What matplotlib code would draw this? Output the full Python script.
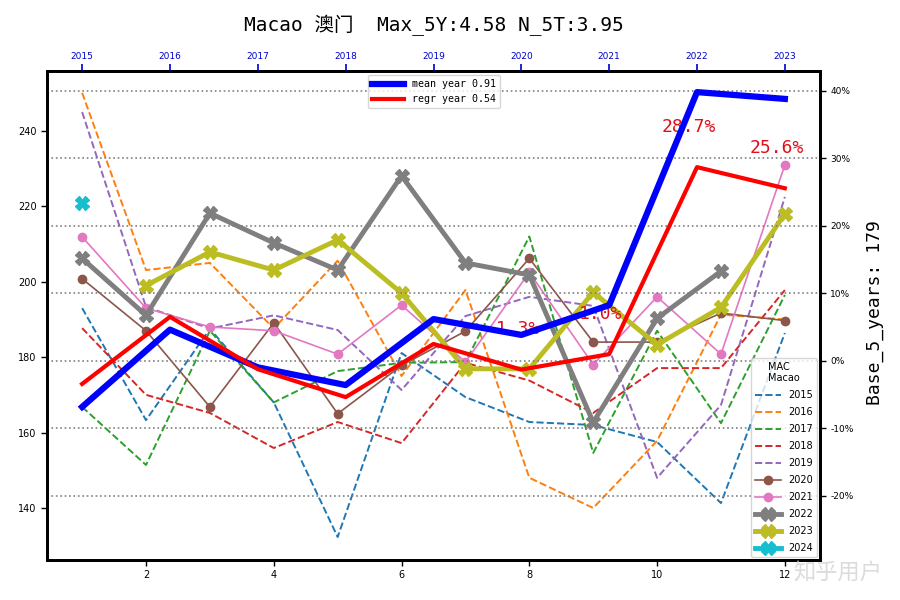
import numpy as np
import matplotlib
matplotlib.use("Agg")
import matplotlib.pyplot as plt
from matplotlib.ticker import FuncFormatter

nan = np.nan
months = list(range(1, 13))
years_axis = [2015, 2016, 2017, 2018, 2019, 2020, 2021, 2022, 2023]
base = 179

s2015 = [193.0, 163.3, 187.5, 168.0, 132.3, 181.1, 169.4, 162.8, 162.0, 157.5, 141.3, 186.4]
s2016 = [250.1, 203.1, 205.0, 187.6, 205.6, 175.0, 197.8, 148.0, 140.0, 157.8, 191.3, 190.0]
s2017 = [166.8, 151.4, 187.0, 168.0, 176.3, 178.5, 178.7, 212.0, 154.6, 187.0, 162.5, 196.5]
s2018 = [187.7, 170.0, 165.2, 155.9, 162.8, 157.2, 178.5, 173.8, 165.2, 177.1, 177.1, 197.8]
s2019 = [245.0, 193.3, 187.6, 191.1, 187.2, 171.3, 190.9, 196.0, 193.6, 148.0, 167.3, 222.5]
s2020 = [200.8, 187.0, 166.8, 189.1, 165.0, 177.8, 186.9, 206.2, 184.0, 184.0, 191.7, 189.7]
s2021 = [211.9, 193.0, 188.0, 187.0, 180.8, 193.8, 178.7, 202.5, 178.0, 196.0, 180.8, 231.0]
s2022 = [206.2, 191.1, 218.2, 210.3, 203.1, 228.1, 205.0, 201.8, 162.7, 190.3, 202.8, nan]
s2023 = [nan, 199.0, 207.9, 203.1, 211.1, 197.0, 176.9, 176.9, 197.2, 183.3, 193.2, 218.0]
s2024 = [220.9, nan, nan, nan, nan, nan, nan, nan, nan, nan, nan, nan]

mean_year = [166.8, 187.3, 177.3, 172.6, 190.1, 185.9, 193.8, 250.3, 248.5]
regr_year = [172.9, 190.7, 176.8, 169.4, 183.5, 176.7, 180.8, 230.4, 224.8]

series = [("2015", s2015), ("2016", s2016), ("2017", s2017), ("2018", s2018),
          ("2019", s2019), ("2020", s2020), ("2021", s2021), ("2022", s2022),
          ("2023", s2023), ("2024", s2024)]
colors = ["#1f77b4", "#ff7f0e", "#2ca02c", "#d62728", "#9467bd",
          "#8c564b", "#e377c2", "#7f7f7f", "#bcbd22", "#17becf"]

fig = plt.figure(figsize=(9, 6), dpi=100)
ax = fig.add_axes([47/900, 1-560/600, (820-47)/900, (560-71)/600])

handles = []
for (name, vals), c in zip(series, colors):
    y = int(name)
    if y <= 2019:
        h, = ax.plot(months, vals, ls="--", lw=1.4, color=c, label=name)
    elif y <= 2021:
        h, = ax.plot(months, vals, ls="-", lw=1.2, color=c, marker="o", ms=6, label=name)
    else:
        h, = ax.plot(months, vals, ls="-", lw=3.5, color=c, marker="X", ms=10, label=name)
    handles.append(h)

ylo, yhi = 126.2, 255.9
ax.set_ylim(ylo, yhi)
ax.set_xlim(0.45, 12.55)
ax.tick_params(axis="both", labelsize=7, length=4, width=1)
for sp in ax.spines.values():
    sp.set_linewidth(2)

# right percent axis
ax2 = ax.twinx()
ax2.set_ylim(ylo/base - 1, yhi/base - 1)
ax2.set_yticks(np.arange(-0.2, 0.41, 0.1))
ax2.yaxis.set_major_formatter(FuncFormatter(lambda v, p: f"{v*100:.0f}%"))
ax2.tick_params(axis="y", labelsize=6.5, length=4, width=1)
ax2.grid(True, axis="y", ls=":", color="gray", lw=1.2)
for sp in ax2.spines.values():
    sp.set_linewidth(2)

# top year axis
ax3 = ax.twiny()
k = 8/11
ax3.set_xlim(2015 + (0.45-1)*k, 2015 + (12.55-1)*k)
ax3.set_ylim(ylo, yhi)
ax3.set_xticks(years_axis)
ax3.set_xticklabels([str(y) for y in years_axis])
ax3.tick_params(axis="x", labelsize=6.5, colors="mediumblue", length=5, width=1.2, pad=2)
hm, = ax3.plot(years_axis, mean_year, color="blue", lw=4.5, label="mean year 0.91", zorder=3)
hr, = ax3.plot(years_axis, regr_year, color="red", lw=3, label="regr year 0.54", zorder=3)
for yr, v in zip(years_axis[5:], regr_year[5:]):
    ax3.annotate(f"{(v/base-1)*100:.1f}%", xy=(yr, v), xytext=(-6, 29),
                 textcoords="offset points", ha="center", va="center",
                 color="#e0101a", fontsize=13, family="DejaVu Sans Mono", zorder=2)

leg1 = ax3.legend(handles=[hm, hr], loc="upper center",
                  prop={"family": "DejaVu Sans Mono", "size": 7.2},
                  bbox_to_anchor=(0.5, 1.0), borderaxespad=0.4, handlelength=3.2,
                  labelspacing=0.5)
leg2 = ax3.legend(handles=handles, loc="lower right", fontsize=7, title="MAC\nMacao",
                  title_fontsize=7, borderaxespad=0.3, handlelength=2.6, labelspacing=0.72)
ax3.add_artist(leg1)

fig.text(433.5/900, 1-25/600, "Macao 澳门  Max_5Y:4.58 N_5T:3.95", ha="center", va="center",
         fontsize=14, family=["DejaVu Sans Mono", "Noto Sans CJK SC"])
fig.text(875/900, 1-313/600, f"Base_5_years: {base}", rotation=90, ha="center", va="center",
         fontsize=13, family="DejaVu Sans Mono")
fig.text(838/900, 1-573/600, "知乎用户", ha="center", va="center", fontsize=16,
         color="lightgray", alpha=0.8, family=["Noto Sans CJK SC", "DejaVu Sans"])

fig.savefig("out.png", dpi=100)
